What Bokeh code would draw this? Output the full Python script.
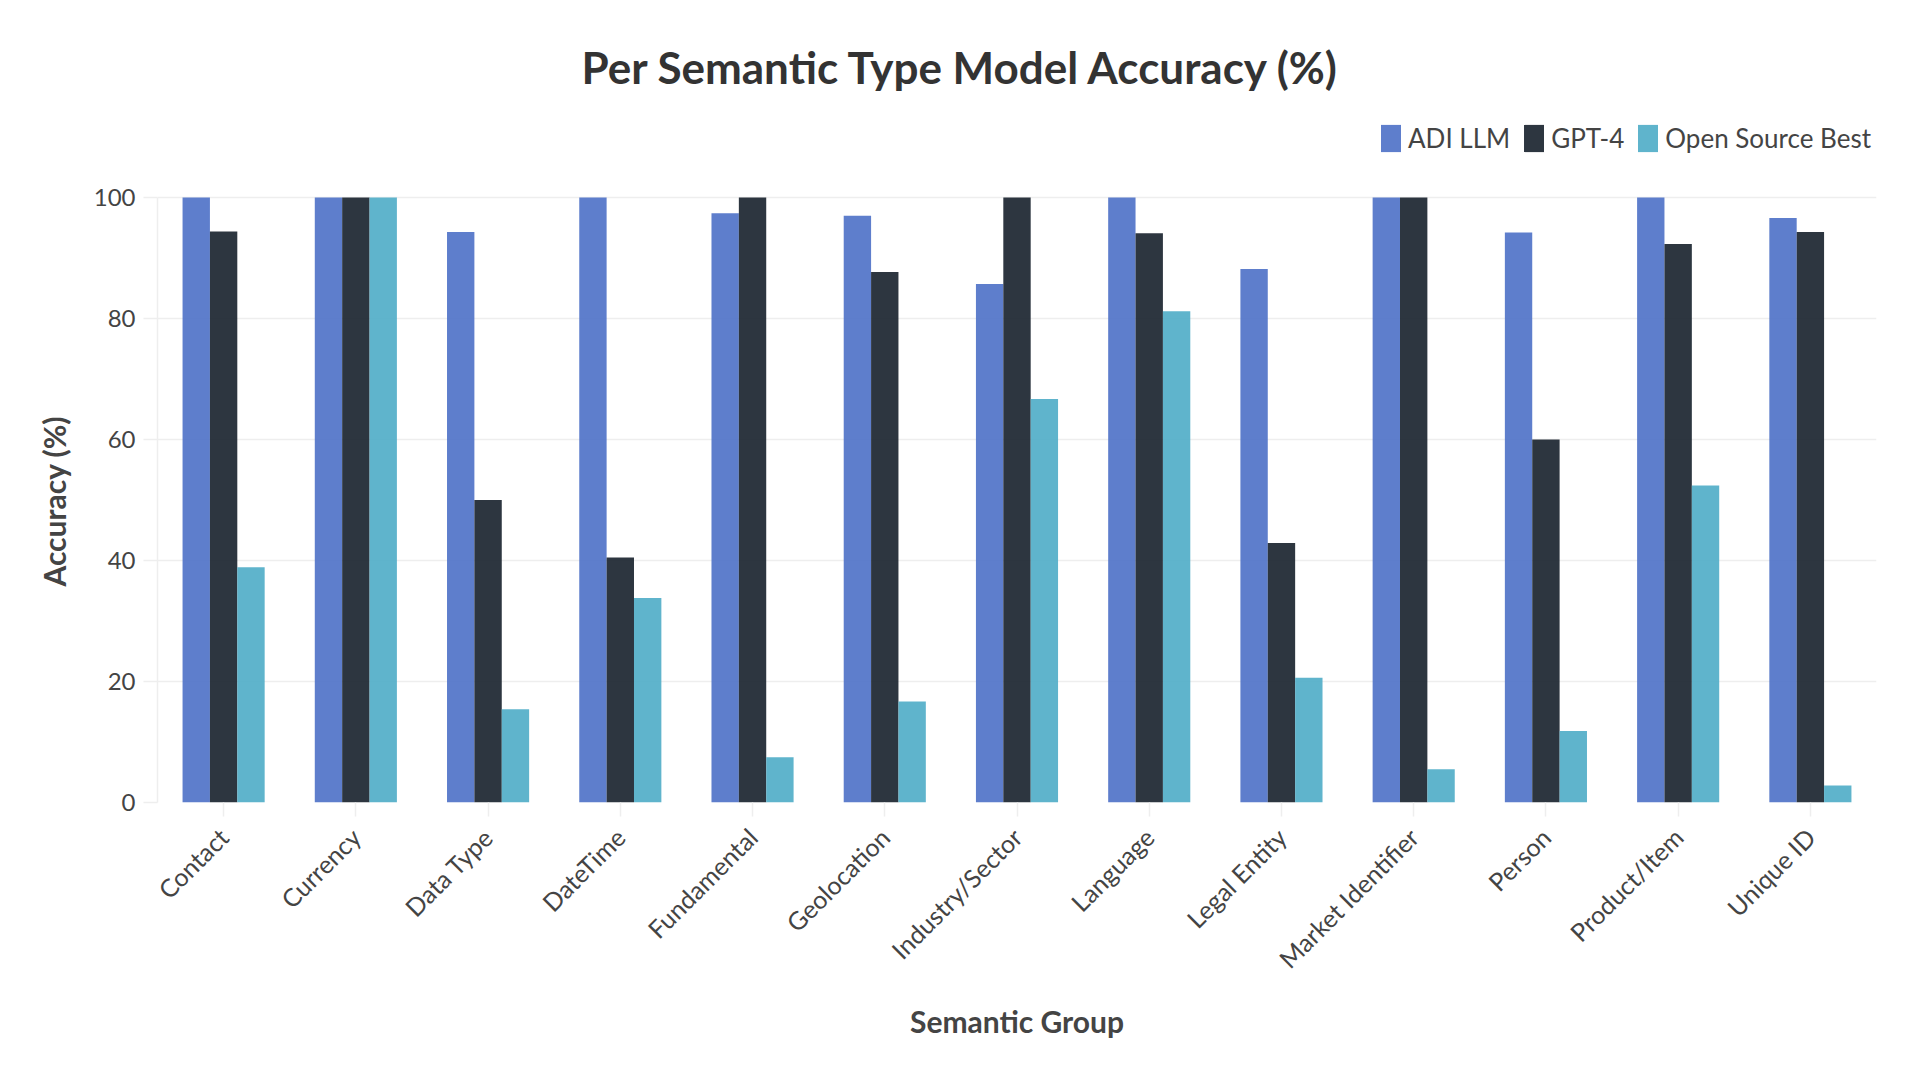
from math import pi
from bokeh.plotting import figure
from bokeh.models import ColumnDataSource, Legend, LegendItem, FactorRange, FixedTicker, Range1d, Title
from bokeh.transform import dodge
from bokeh.embed import file_html
from bokeh.resources import INLINE

categories = ["Contact", "Currency", "Data Type", "DateTime", "Fundamental", "Geolocation",
              "Industry/Sector", "Language", "Legal Entity", "Market Identifier", "Person",
              "Product/Item", "Unique ID"]
adi_llm = [100, 100, 94.3, 100, 97.4, 97.0, 85.7, 100, 88.2, 100, 94.2, 100, 96.6]
gpt4 = [94.4, 100, 50.0, 40.5, 100, 87.7, 100, 94.1, 42.9, 100, 60.0, 92.3, 94.3]
open_source_best = [38.9, 100, 15.4, 33.8, 7.5, 16.7, 66.7, 81.2, 20.6, 5.5, 11.8, 52.4, 2.8]
series_names = ["ADI LLM", "GPT-4", "Open Source Best"]
series_colors = ["#4C70C6", "#16202B", "#4EACC6"]
y_ticks = [0, 20, 40, 60, 80, 100]

FONT = "Lato"

# layout: the data area (0..100) is 605 px tall; the frame extends above it to hold the legend
DATA_H = 605
FRAME_H = 686
Y_TOP = FRAME_H * 100 / DATA_H

source = ColumnDataSource(dict(cat=categories, adi=adi_llm, gpt=gpt4, osb=open_source_best))

p = figure(x_range=FactorRange(*categories), y_range=Range1d(0, Y_TOP),
           frame_width=1719, frame_height=FRAME_H, output_backend="svg", toolbar_location=None,
           title="Per Semantic Type Model Accuracy (%)",
           min_border_left=157, min_border_right=28, min_border_top=116, min_border_bottom=262)
p.outline_line_color = None
p.background_fill_color = "white"
p.border_fill_color = "white"

p.title.align = "left"
p.title.offset = 424
p.title.text_font = FONT
p.title.text_font_size = "44px"
p.title.text_font_style = "bold"
p.title.text_color = "#333333"
p.title.standoff = 48

bw = 0.207
renderers = []
for field, off, color in zip(["adi", "gpt", "osb"], [-bw, 0, bw], series_colors):
    r = p.vbar(x=dodge("cat", off, range=p.x_range), top=field, width=bw, bottom=0,
               source=source, fill_color=color, fill_alpha=0.9, line_color=None)
    renderers.append(r)

# axes
p.yaxis.ticker = FixedTicker(ticks=y_ticks)
for ax in (p.xaxis[0], p.yaxis[0]):
    ax.major_label_text_font = FONT
    ax.major_label_text_font_size = "25px"
    ax.major_label_text_color = "#444444"
    ax.axis_label_text_font = FONT
    ax.axis_label_text_font_size = "30px"
    ax.axis_label_text_font_style = "bold"
    ax.axis_label_text_color = "#444444"
    ax.major_tick_line_color = "#eeeeee"
    ax.major_tick_line_width = 1.5
    ax.major_tick_out = 14
    ax.major_tick_in = 0
    ax.minor_tick_line_color = None

p.xaxis.axis_label = "Semantic Group"
p.xaxis.major_label_orientation = pi / 4
p.xaxis.major_label_standoff = 16
p.xaxis.axis_line_color = None
p.xaxis.axis_label_standoff = 16

p.yaxis.major_label_text_font_size = "24px"
p.yaxis.major_label_standoff = 8
p.yaxis.axis_line_color = "#eeeeee"
p.yaxis.axis_line_width = 1.5
p.yaxis.bounds = (0, 100)

# y axis title, centred on the 0..100 data area (the frame also holds the legend)
y_title = Title(text="Accuracy (%)", align="left", offset=216, standoff=38,
                text_font=FONT, text_font_size="30px", text_font_style="bold",
                text_color="#444444")
p.add_layout(y_title, "left")

p.xgrid.grid_line_color = None
p.ygrid.grid_line_color = "#eeeeee"
p.ygrid.grid_line_width = 1.5

legend = Legend(items=[LegendItem(label=n, renderers=[r]) for n, r in zip(series_names, renderers)],
                orientation="horizontal", location="top_right",
                glyph_width=25, glyph_height=34, label_standoff=5, spacing=11,
                padding=5, margin=5, label_text_font=FONT, label_text_font_size="26px",
                label_text_color="#444444", border_line_color=None, background_fill_alpha=0)
p.add_layout(legend, "center")

open("out.html", "w").write(file_html(p, INLINE))
